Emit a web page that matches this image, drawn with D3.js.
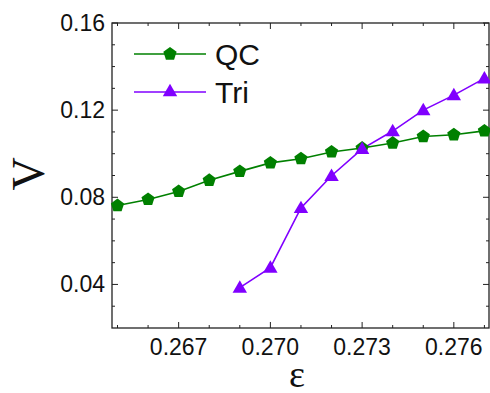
<!DOCTYPE html>
<html>
<head>
<meta charset="utf-8">
<script src="https://cdn.jsdelivr.net/npm/d3@7"></script>
<style>
  body { margin: 0; background: #fff; }
  svg { display: block; }
</style>
</head>
<body>
<svg id="chart" width="490" height="393"></svg>
<script>
const epsQC= [0.265, 0.266, 0.267, 0.268, 0.269, 0.270, 0.271, 0.272, 0.273, 0.274, 0.275, 0.276, 0.277];
const vQC= [0.0762, 0.0790, 0.0827, 0.0878, 0.0919, 0.0958, 0.0977, 0.1008, 0.1026, 0.1049, 0.1079, 0.1087, 0.1105];
const epsTri= [0.269, 0.270, 0.271, 0.272, 0.273, 0.274, 0.275, 0.276, 0.277];
const vTri= [0.0385, 0.0477, 0.0751, 0.0899, 0.1022, 0.1104, 0.1200, 0.1269, 0.1346];
const xTicks= [0.267, 0.270, 0.273, 0.276];
const yTicks= [0.04, 0.08, 0.12, 0.16];

const green= '#008000', purple= '#8000ff';
const svg= d3.select('#chart');
const L= 112, R= 489, T= 23, B= 328;

const x= d3.scaleLinear().domain([0.26482, 0.27715]).range([L, R]);
const y= d3.scaleLinear().domain([0.02, 0.16]).range([B, T]);

const pentagon= {
  draw(ctx, size) {
    const r= Math.sqrt(size/2.378);
    for (let i= 0; i < 5; i++) {
      const a= -Math.PI/2 + i*2*Math.PI/5;
      const px= r*Math.cos(a), py= r*Math.sin(a);
      if (i === 0) ctx.moveTo(px, py); else ctx.lineTo(px, py);
    }
    ctx.closePath();
  }
};

// frame
svg.append('rect')
  .attr('x', L).attr('y', T).attr('width', R-L).attr('height', B-T)
  .attr('fill', 'none').attr('stroke', '#222').attr('stroke-width', 1.3);

// ticks, all pointing inward
const xMinor= d3.range(0.265, 0.2775, 0.001);
const yMinor= d3.range(0.03, 0.165, 0.01);
const tk= svg.append('g').attr('stroke', '#222').attr('stroke-width', 1);
xMinor.forEach(v => {
  const major= xTicks.some(t => Math.abs(t-v) < 1e-6);
  const len= major ? 6 : 3;
  tk.append('line').attr('x1', x(v)).attr('x2', x(v)).attr('y1', B).attr('y2', B-len);
  tk.append('line').attr('x1', x(v)).attr('x2', x(v)).attr('y1', T).attr('y2', T+len);
});
yMinor.forEach(v => {
  const major= yTicks.some(t => Math.abs(t-v) < 1e-6);
  const len= major ? 6 : 3;
  tk.append('line').attr('y1', y(v)).attr('y2', y(v)).attr('x1', L).attr('x2', L+len);
  tk.append('line').attr('y1', y(v)).attr('y2', y(v)).attr('x1', R).attr('x2', R-len);
});

const font= 'Arial, "Liberation Sans", sans-serif';
svg.append('g').selectAll('text').data(xTicks).join('text')
  .attr('x', d => x(d)).attr('y', 355)
  .attr('text-anchor', 'middle')
  .attr('font-family', font).attr('font-size', 23).attr('fill', '#111')
  .text(d => d3.format('.3f')(d));
svg.append('g').selectAll('text').data(yTicks).join('text')
  .attr('x', 105).attr('y', d => y(d)+8)
  .attr('text-anchor', 'end')
  .attr('font-family', font).attr('font-size', 23).attr('fill', '#111')
  .text(d => d3.format('.2f')(d));

// axis titles
svg.append('text')
  .attr('transform', 'translate(44,174) rotate(-90)')
  .attr('text-anchor', 'middle')
  .attr('font-family', '"Liberation Serif", "Times New Roman", serif')
  .attr('font-size', 46).attr('fill', '#111')
  .text('V');
svg.append('text')
  .attr('x', 297).attr('y', 387)
  .attr('text-anchor', 'middle')
  .attr('font-family', '"Liberation Serif", "Times New Roman", serif')
  .attr('font-size', 38).attr('fill', '#111')
  .text('ε');

// series
const line= d3.line().x(d => x(d[0])).y(d => y(d[1]));
const qc= d3.zip(epsQC, vQC);
const tri= d3.zip(epsTri, vTri);

svg.append('path').datum(qc).attr('d', line)
  .attr('fill', 'none').attr('stroke', green).attr('stroke-width', 1.6);
svg.append('path').datum(tri).attr('d', line)
  .attr('fill', 'none').attr('stroke', purple).attr('stroke-width', 1.6);

const pent= d3.symbol().type(pentagon).size(115);
const triSym= d3.symbol().type(d3.symbolTriangle).size(90);

svg.append('g').selectAll('path').data(qc).join('path')
  .attr('transform', d => `translate(${x(d[0])},${y(d[1])})`)
  .attr('d', pent).attr('fill', green);
svg.append('g').selectAll('path').data(tri).join('path')
  .attr('transform', d => `translate(${x(d[0])},${y(d[1])+1})`)
  .attr('d', triSym).attr('fill', purple);

// legend
const legend= [
  {name: 'QC', color: green, sym: pent, y: 54},
  {name: 'Tri', color: purple, sym: triSym, y: 92}
];
const lg= svg.append('g');
legend.forEach(d => {
  lg.append('line').attr('x1', 134).attr('x2', 206).attr('y1', d.y).attr('y2', d.y)
    .attr('stroke', d.color).attr('stroke-width', 1.6);
  lg.append('path').attr('transform', `translate(170,${d.y})`).attr('d', d.sym()).attr('fill', d.color);
  lg.append('text').attr('x', 215).attr('y', d.y+11)
    .attr('font-family', font).attr('font-size', 30).attr('fill', '#111')
    .text(d.name);
});
</script>
</body>
</html>
